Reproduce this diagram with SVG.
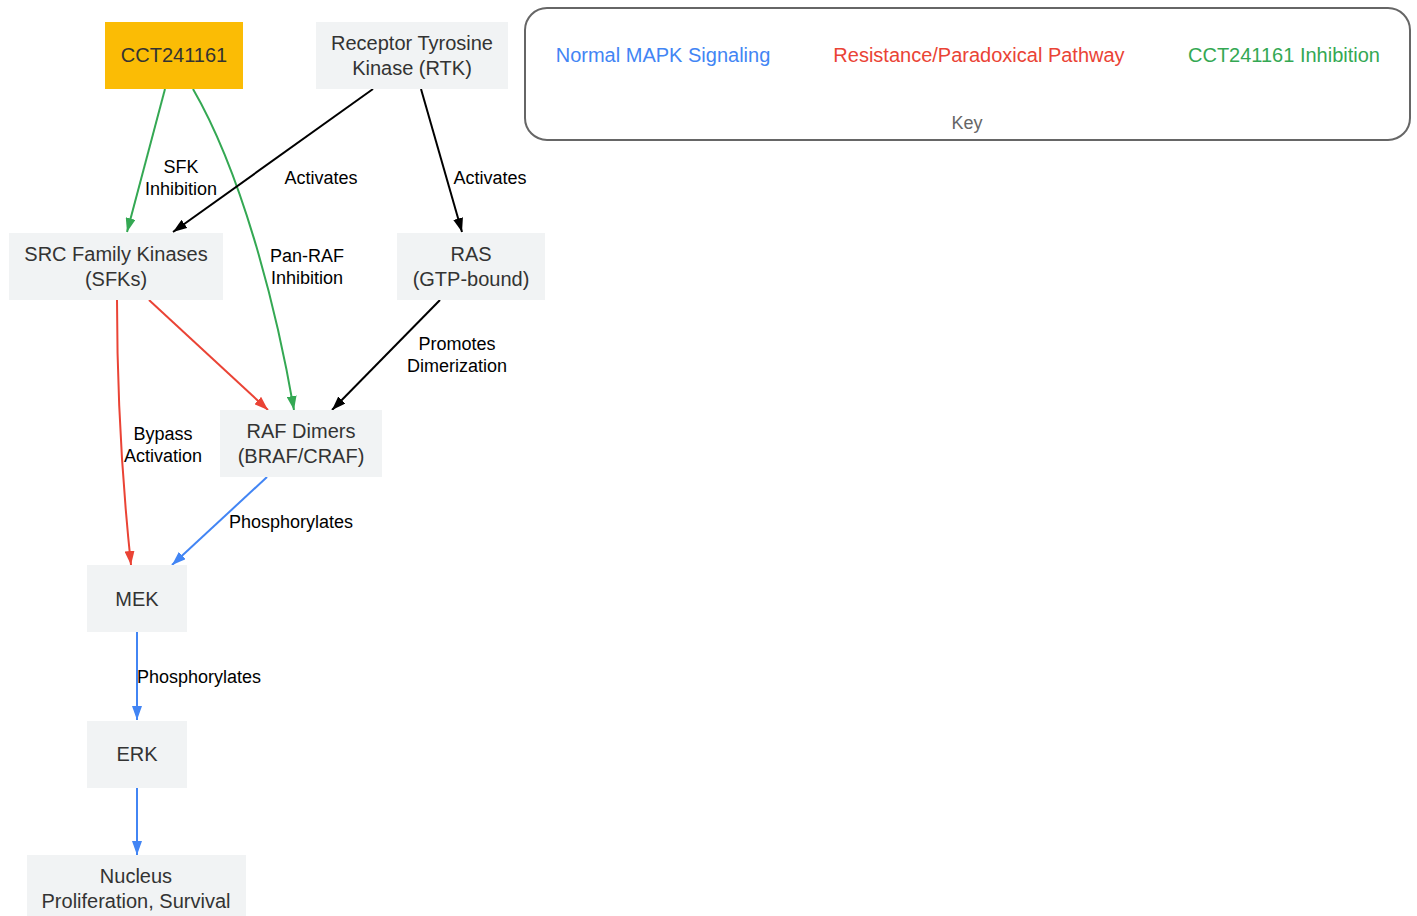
<svg xmlns="http://www.w3.org/2000/svg" width="1417" height="916" viewBox="0 0 1417 916">
<style>
.node rect{fill:#F1F3F4;stroke:none}
.node text{font-family:"Liberation Sans",Arial,sans-serif;font-size:20px;fill:#333;text-anchor:middle}
.lbl{font-family:"Liberation Sans",Arial,sans-serif;font-size:18px;fill:#000;text-anchor:middle}
.e{fill:none;stroke-width:2}
.k{stroke:#000}.g{stroke:#34A853}.r{stroke:#EA4335}.b{stroke:#4285F4}
.key text{font-family:"Liberation Sans",Arial,sans-serif;font-size:20px;text-anchor:middle}
</style>
<defs>
<marker id="ak" viewBox="0 0 14 10" refX="14" refY="5" markerWidth="14" markerHeight="10" markerUnits="userSpaceOnUse" orient="auto"><path d="M0,0L14,5L0,10z" fill="#000"/></marker>
<marker id="ag" viewBox="0 0 14 10" refX="14" refY="5" markerWidth="14" markerHeight="10" markerUnits="userSpaceOnUse" orient="auto"><path d="M0,0L14,5L0,10z" fill="#34A853"/></marker>
<marker id="ar" viewBox="0 0 14 10" refX="14" refY="5" markerWidth="14" markerHeight="10" markerUnits="userSpaceOnUse" orient="auto"><path d="M0,0L14,5L0,10z" fill="#EA4335"/></marker>
<marker id="ab" viewBox="0 0 14 10" refX="14" refY="5" markerWidth="14" markerHeight="10" markerUnits="userSpaceOnUse" orient="auto"><path d="M0,0L14,5L0,10z" fill="#4285F4"/></marker>
</defs>
<rect width="1417" height="916" fill="#fff"/>
<g id="key" class="key">
<rect x="525" y="8" width="885" height="132" rx="22" fill="#fff" stroke="#666" stroke-width="2"/>
<text x="663" y="62" fill="#4285F4">Normal MAPK Signaling</text>
<text x="979" y="62" fill="#EA4335">Resistance/Paradoxical Pathway</text>
<text x="1284" y="62" fill="#34A853">CCT241161 Inhibition</text>
<text x="967" y="129" fill="#666" font-size="18px" style="font-size:18px">Key</text>
</g>
<g id="edges">
<path class="e g" d="M165,89L127,232" marker-end="url(#ag)"/>
<path class="e g" d="M193,89C240,170 275,300 294,410" marker-end="url(#ag)"/>
<path class="e k" d="M373,89Q280,156 173,232" marker-end="url(#ak)"/>
<path class="e k" d="M421,89L462,232" marker-end="url(#ak)"/>
<path class="e k" d="M440,300L332,410" marker-end="url(#ak)"/>
<path class="e r" d="M149,300L268,410" marker-end="url(#ar)"/>
<path class="e r" d="M117,300C117,400 122,480 131,565" marker-end="url(#ar)"/>
<path class="e b" d="M267,477L172,565" marker-end="url(#ab)"/>
<path class="e b" d="M137,632L137,720" marker-end="url(#ab)"/>
<path class="e b" d="M137,788L137,855" marker-end="url(#ab)"/>
<text class="lbl" x="181" y="173">SFK</text>
<text class="lbl" x="181" y="195">Inhibition</text>
<text class="lbl" x="307" y="262">Pan-RAF</text>
<text class="lbl" x="307" y="284">Inhibition</text>
<text class="lbl" x="321" y="184">Activates</text>
<text class="lbl" x="490" y="184">Activates</text>
<text class="lbl" x="457" y="350">Promotes</text>
<text class="lbl" x="457" y="372">Dimerization</text>
<text class="lbl" x="163" y="440">Bypass</text>
<text class="lbl" x="163" y="462">Activation</text>
<text class="lbl" x="291" y="528">Phosphorylates</text>
<text class="lbl" x="199" y="683">Phosphorylates</text>
</g>
<g id="cct" class="node"><rect x="105" y="22" width="138" height="67" style="fill:#FBBC05"/><text x="174" y="62">CCT241161</text></g>
<g id="rtk" class="node"><rect x="316" y="22" width="192" height="67"/><text x="412" y="50">Receptor Tyrosine</text><text x="412" y="75">Kinase (RTK)</text></g>
<g id="sfk" class="node"><rect x="9" y="233" width="214" height="67"/><text x="116" y="261">SRC Family Kinases</text><text x="116" y="286">(SFKs)</text></g>
<g id="ras" class="node"><rect x="397" y="233" width="148" height="67"/><text x="471" y="261">RAS</text><text x="471" y="286">(GTP-bound)</text></g>
<g id="raf" class="node"><rect x="220" y="410" width="162" height="67"/><text x="301" y="438">RAF Dimers</text><text x="301" y="463">(BRAF/CRAF)</text></g>
<g id="mek" class="node"><rect x="87" y="565" width="100" height="67"/><text x="137" y="606">MEK</text></g>
<g id="erk" class="node"><rect x="87" y="721" width="100" height="67"/><text x="137" y="761">ERK</text></g>
<g id="nucleus" class="node"><rect x="27" y="855" width="219" height="67"/><text x="136" y="883">Nucleus</text><text x="136" y="908">Proliferation, Survival</text></g>
</svg>
